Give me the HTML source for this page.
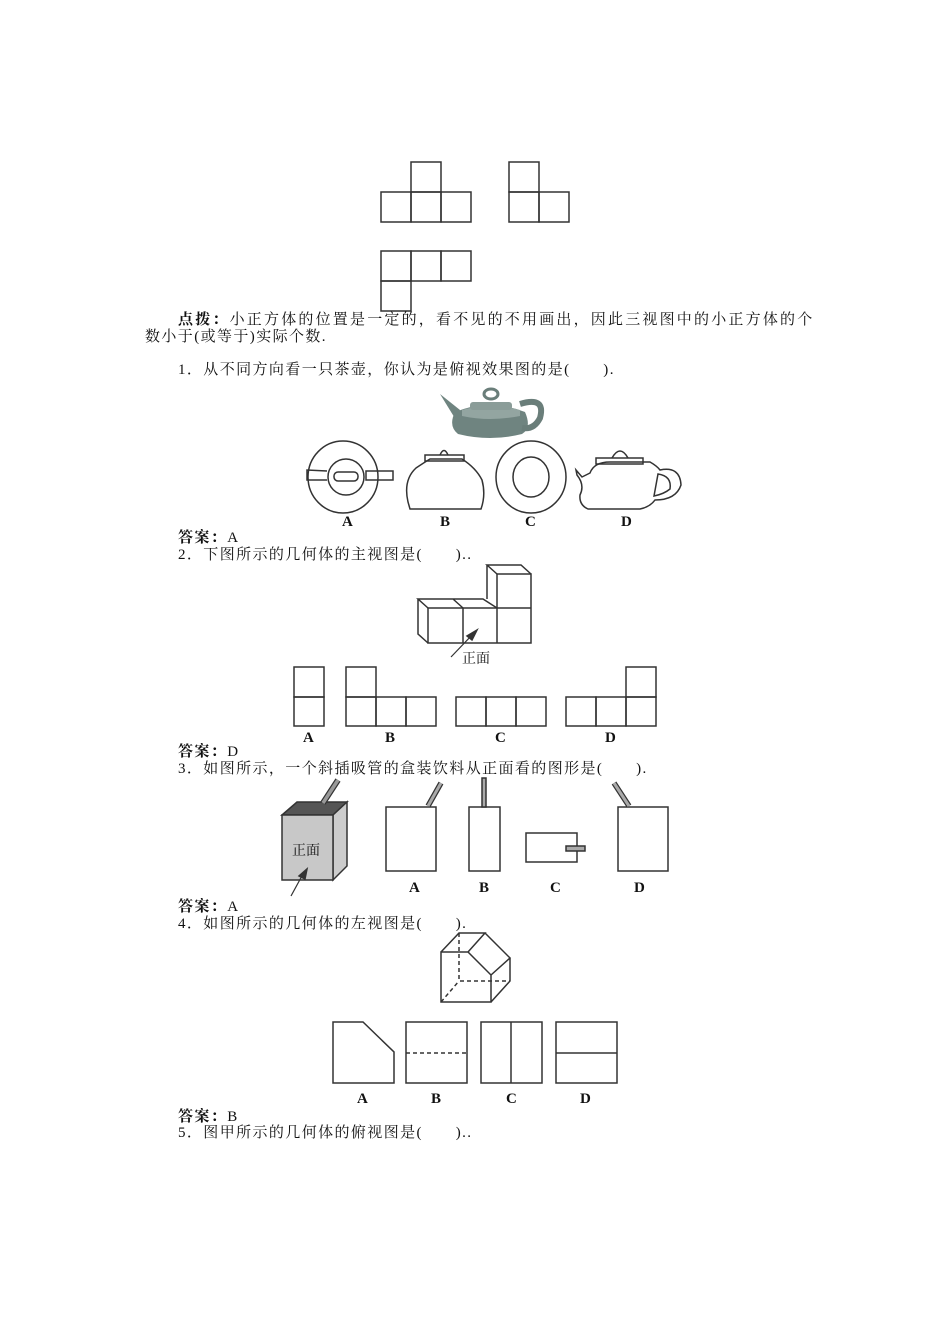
<!DOCTYPE html>
<html><head><meta charset="utf-8"><style>
body{margin:0;background:#fff;}
#p{position:relative;width:950px;height:1344px;overflow:hidden;font-family:"Liberation Serif","Noto Serif CJK SC",serif;font-size:15px;color:#111;}
.t{position:absolute;white-space:nowrap;line-height:17px;letter-spacing:1.4px;}
.l{position:absolute;font-family:"Liberation Serif",serif;font-weight:bold;font-size:15px;}
svg{position:absolute;left:0;top:0;}
</style></head><body><div id="p">
<svg width="950" height="1344" fill="none" stroke="#333" stroke-width="1.5">
<rect x="411" y="162" width="30" height="30"/><rect x="381" y="192" width="30" height="30"/><rect x="411" y="192" width="30" height="30"/><rect x="441" y="192" width="30" height="30"/>
<rect x="509" y="162" width="30" height="30"/><rect x="509" y="192" width="30" height="30"/><rect x="539" y="192" width="30" height="30"/>
<rect x="381" y="251" width="30" height="30"/><rect x="411" y="251" width="30" height="30"/><rect x="441" y="251" width="30" height="30"/><rect x="381" y="281" width="30" height="30"/>
<g stroke="none">
<path d="M455 412 Q490 398 525 412 Q532 428 522 434 Q490 442 458 434 Q448 426 455 412Z" fill="#6f8480"/>
<path d="M462 410 Q490 402 520 410 L520 416 Q490 422 462 416Z" fill="#93a5a1"/>
<rect x="470" y="402" width="42" height="8" rx="3" fill="#8a9c98"/>
<path d="M440 394 L460 410 L456 420 Z" fill="#6f8480"/>
<path d="M520 404 Q546 396 540 418 Q534 430 522 428" stroke="#6a7e7a" stroke-width="6" fill="none"/>
<ellipse cx="491" cy="394" rx="7" ry="5" fill="none" stroke="#6a7e7a" stroke-width="3"/>
</g>
<ellipse cx="343" cy="477" rx="35" ry="36"/><ellipse cx="346" cy="477" rx="18" ry="18"/><rect x="334" y="472" width="24" height="9" rx="4"/>
<path d="M327 471 L307 470 L307 480 L327 480"/><rect x="366" y="471" width="27" height="9"/>
<path d="M408 502 Q403 480 416 468 Q425 462 430 459 L462 459 Q476 468 482 480 Q486 495 481 509 L410 509 Z"/>
<rect x="425" y="455" width="39" height="6"/><path d="M440 455 Q444 446 448 455"/>
<ellipse cx="531" cy="477" rx="35" ry="36"/><ellipse cx="531" cy="477" rx="18" ry="20"/>
<path d="M576 470 L582 477 L590 473 Q594 462 610 462 L650 462 Q657 466 660 470 Q680 466 681 485 Q676 500 655 500 Q650 507 640 509 L588 509 Q579 505 580 495 Q585 485 577 475Z"/>
<rect x="596" y="458" width="47" height="6"/><path d="M612 458 Q620 444 628 458"/><path d="M658 474 Q672 476 670 489 Q664 494 654 496 Z"/>
<path d="M428 608 L531 608 L531 643 L428 643 Z M463 608 L463 643 M497 574 L531 574 L531 643 M497 574 L497 643"/>
<path d="M428 608 L418 599 L483 599 L497 608 M418 599 L418 634 L428 643 M453 599 L463 608 M497 574 L487 565 L521 565 L531 574 M487 565 L487 599"/>
<path d="M451 657 L473 634" stroke-width="1.2"/><path d="M477 630 L467 636 L472 640 Z" fill="#333"/>
<rect x="294" y="667" width="30" height="30"/><rect x="294" y="697" width="30" height="29"/>
<rect x="346" y="667" width="30" height="30"/><rect x="346" y="697" width="30" height="29"/><rect x="376" y="697" width="30" height="29"/><rect x="406" y="697" width="30" height="29"/>
<rect x="456" y="697" width="30" height="29"/><rect x="486" y="697" width="30" height="29"/><rect x="516" y="697" width="30" height="29"/>
<rect x="566" y="697" width="30" height="29"/><rect x="596" y="697" width="30" height="29"/><rect x="626" y="697" width="30" height="29"/><rect x="626" y="667" width="30" height="30"/>
<polygon points="282,815 297,802 347,802 333,815" fill="#555"/>
<polygon points="333,815 347,802 347,866 333,880" fill="#ccc"/>
<rect x="282" y="815" width="51" height="65" fill="#c8c8c8"/>
<path d="M323 803 L338 780" stroke="#333" stroke-width="6"/><path d="M323 803 L338 780" stroke="#999" stroke-width="3.5"/>
<path d="M291 896 L303 874" stroke-width="1.2"/><path d="M307 869 L299 876 L305 879 Z" fill="#333"/>
<rect x="386" y="807" width="50" height="64"/><path d="M428 806 L441 783" stroke="#333" stroke-width="5.5"/><path d="M428 806 L441 783" stroke="#aaa" stroke-width="3"/>
<rect x="469" y="807" width="31" height="64"/><rect x="482" y="778" width="4" height="29" fill="#aaa"/>
<rect x="526" y="833" width="51" height="29"/><rect x="566" y="846" width="19" height="5" fill="#aaa"/>
<rect x="618" y="807" width="50" height="64"/><path d="M629 806 L614 783" stroke="#333" stroke-width="5.5"/><path d="M629 806 L614 783" stroke="#aaa" stroke-width="3"/>
<path d="M441 952 L468 952 L491 975 L491 1002 L441 1002 Z M441 952 L459 933 L485 933 L468 952 M485 933 L510 958 L491 975 M510 958 L510 981 L491 1002"/>
<path d="M459 933 L459 981 L510 981 M441 1002 L459 981" stroke-dasharray="4,3"/>
<path d="M333 1022 L363 1022 L394 1052 L394 1083 L333 1083 Z"/>
<rect x="406" y="1022" width="61" height="61"/><path d="M406 1053 L467 1053" stroke-dasharray="4,3"/>
<rect x="481" y="1022" width="61" height="61"/><path d="M511 1022 L511 1083"/>
<rect x="556" y="1022" width="61" height="61"/><path d="M556 1053 L617 1053"/>
</svg>
<div class="t" style="left:178px;top:312px;letter-spacing:2.2px"><b>点拨：</b>小正方体的位置是一定的，看不见的不用画出，因此三视图中的小正方体的个</div>
<div class="t" style="left:145px;top:329px">数小于(或等于)实际个数.</div>
<div class="t" style="left:178px;top:362px">1．从不同方向看一只茶壶，你认为是俯视效果图的是(　　).</div>
<div class="l" style="left:342px;top:514px">A</div><div class="l" style="left:440px;top:514px">B</div><div class="l" style="left:525px;top:514px">C</div><div class="l" style="left:621px;top:514px">D</div>
<div class="t" style="left:178px;top:530px"><b>答案：</b>A</div>
<div class="t" style="left:178px;top:547px">2．下图所示的几何体的主视图是(　　)..</div>
<div class="t" style="left:462px;top:651px;font-size:14px;letter-spacing:0">正面</div>
<div class="l" style="left:303px;top:730px">A</div><div class="l" style="left:385px;top:730px">B</div><div class="l" style="left:495px;top:730px">C</div><div class="l" style="left:605px;top:730px">D</div>
<div class="t" style="left:178px;top:744px"><b>答案：</b>D</div>
<div class="t" style="left:178px;top:761px">3．如图所示，一个斜插吸管的盒装饮料从正面看的图形是(　　).</div>
<div class="t" style="left:292px;top:843px;font-size:14px;letter-spacing:0">正面</div>
<div class="l" style="left:409px;top:880px">A</div><div class="l" style="left:479px;top:880px">B</div><div class="l" style="left:550px;top:880px">C</div><div class="l" style="left:634px;top:880px">D</div>
<div class="t" style="left:178px;top:899px"><b>答案：</b>A</div>
<div class="t" style="left:178px;top:916px">4．如图所示的几何体的左视图是(　　).</div>
<div class="l" style="left:357px;top:1091px">A</div><div class="l" style="left:431px;top:1091px">B</div><div class="l" style="left:506px;top:1091px">C</div><div class="l" style="left:580px;top:1091px">D</div>
<div class="t" style="left:178px;top:1109px"><b>答案：</b>B</div>
<div class="t" style="left:178px;top:1125px">5．图甲所示的几何体的俯视图是(　　)..</div>
</div></body></html>
